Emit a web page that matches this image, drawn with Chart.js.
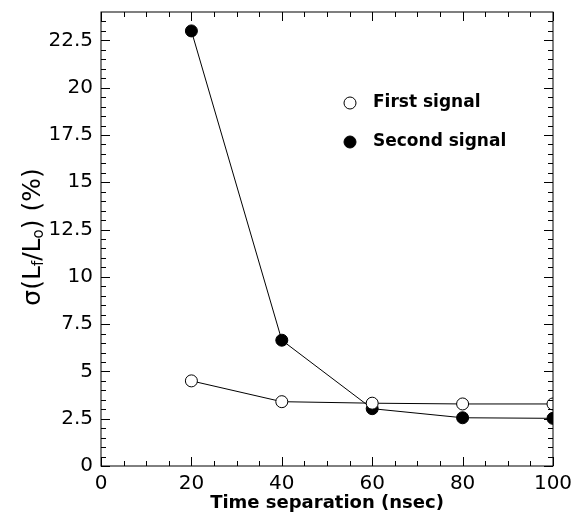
<!DOCTYPE html>
<html>
<head>
<meta charset="utf-8">
<script src="https://cdn.jsdelivr.net/npm/chart.js@4.4.0/dist/chart.umd.min.js"></script>
<style>
  html, body { margin: 0; padding: 0; background: #fff; }
  #wrap { width: 575px; height: 516px; }
</style>
</head>
<body>
<div id="wrap"><canvas id="sigmaChart"></canvas></div>
<script>
const timeSep = [20, 40, 60, 80, 100];
const firstSignal = [4.5, 3.4, 3.32, 3.28, 3.28];
const secondSignal = [23.0, 6.65, 3.03, 2.55, 2.52];
const seriesNames = ['First signal', 'Second signal'];

const FONT = '"DejaVu Sans", sans-serif';

// ticks drawn inward on all four sides, plus the legend and the y title
const framePlugin = {
    id: 'frame',
    afterDraw(chart) {
        const c = chart.ctx;
        const a = chart.chartArea;
        const xs = chart.scales.x;
        const ys = chart.scales.y;
        c.save();
        c.strokeStyle = '#000';
        c.lineWidth = 1;
        c.strokeRect(a.left, a.top, a.right - a.left, a.bottom - a.top);

        c.beginPath();
        for (let v = 0; v <= 100; v += 5) {
            const px = Math.round(xs.getPixelForValue(v)) + 0.5;
            const len = v % 20 === 0 ? 9 : 5;
            c.moveTo(px, a.bottom); c.lineTo(px, a.bottom - len);
            c.moveTo(px, a.top); c.lineTo(px, a.top + len);
        }
        for (let i = 0; i <= 47; i++) {
            const v = i * 0.5;
            if (v > ys.max) break;
            const py = Math.round(ys.getPixelForValue(v)) + 0.5;
            const len = i % 5 === 0 ? 9 : 5;
            c.moveTo(a.left, py); c.lineTo(a.left + len, py);
            c.moveTo(a.right, py); c.lineTo(a.right - len, py);
        }
        c.stroke();

        // legend
        c.font = 'bold 17px ' + FONT;
        c.textBaseline = 'middle';
        c.fillStyle = '#000';
        const lx = 350, ly = [103, 142];
        chart.data.datasets.forEach((ds, i) => {
            c.beginPath();
            c.arc(lx, ly[i], 6, 0, Math.PI * 2);
            c.fillStyle = ds.pointBackgroundColor;
            c.fill();
            c.stroke();
            c.fillStyle = '#000';
            c.textAlign = 'left';
            c.fillText(ds.label, lx + 23, ly[i]);
        });

        // y axis title with subscripts
        c.translate(33, 237);
        c.rotate(-Math.PI / 2);
        const parts = [
            ['σ(L', 25, 0], ['f', 15, 6], ['/L', 25, 0], ['o', 15, 6], [') (%)', 25, 0]
        ];
        let w = 0;
        parts.forEach(p => { c.font = p[1] + 'px ' + FONT; w += c.measureText(p[0]).width; });
        let x = -w / 2;
        c.textAlign = 'left';
        c.textBaseline = 'middle';
        parts.forEach(p => {
            c.font = p[1] + 'px ' + FONT;
            c.fillText(p[0], x, p[2]);
            x += c.measureText(p[0]).width;
        });
        c.restore();
    }
};

const ctx = document.getElementById('sigmaChart').getContext('2d');
new Chart(ctx, {
    type: 'line',
    data: {
        datasets: [{
            label: seriesNames[0],
            data: timeSep.map((t, i) => ({ x: t, y: firstSignal[i] })),
            borderColor: '#000',
            borderWidth: 1,
            pointRadius: 6,
            pointBackgroundColor: '#fff',
            pointBorderColor: '#000',
            pointBorderWidth: 1,
            tension: 0
        }, {
            label: seriesNames[1],
            data: timeSep.map((t, i) => ({ x: t, y: secondSignal[i] })),
            borderColor: '#000',
            borderWidth: 1,
            pointRadius: 6,
            pointBackgroundColor: '#000',
            pointBorderColor: '#000',
            pointBorderWidth: 1,
            tension: 0
        }]
    },
    options: {
        responsive: true,
        maintainAspectRatio: false,
        animation: false,
        layout: { padding: { top: 12, right: 22, left: 0, bottom: 0 } },
        plugins: {
            legend: { display: false },
            tooltip: { enabled: false }
        },
        scales: {
            x: {
                type: 'linear',
                min: 0,
                max: 100,
                grid: { display: false, drawTicks: false },
                border: { display: false },
                ticks: {
                    stepSize: 20,
                    padding: 6,
                    color: '#000',
                    font: { family: FONT, size: 20 }
                },
                title: {
                    display: true,
                    text: 'Time separation (nsec)',
                    color: '#000',
                    font: { family: FONT, size: 18, weight: 'bold' },
                    padding: { top: 0, bottom: 2 }
                },
                afterFit(scale) {
                    scale.height = 50;
                    scale.paddingLeft = 0;
                    scale.paddingRight = 0;
                }
            },
            y: {
                type: 'linear',
                min: 0,
                max: 24,
                grid: { display: false, drawTicks: false },
                border: { display: false },
                ticks: {
                    stepSize: 2.5,
                    padding: 8,
                    color: '#000',
                    font: { family: FONT, size: 20 }
                },
                afterBuildTicks(scale) {
                    scale.ticks = scale.ticks.filter(t => Math.abs(t.value / 2.5 - Math.round(t.value / 2.5)) < 1e-6);
                },
                afterFit(scale) {
                    scale.width = 101;
                    scale.paddingTop = 0;
                    scale.paddingBottom = 0;
                }
            }
        }
    },
    plugins: [framePlugin]
});
</script>
</body>
</html>
